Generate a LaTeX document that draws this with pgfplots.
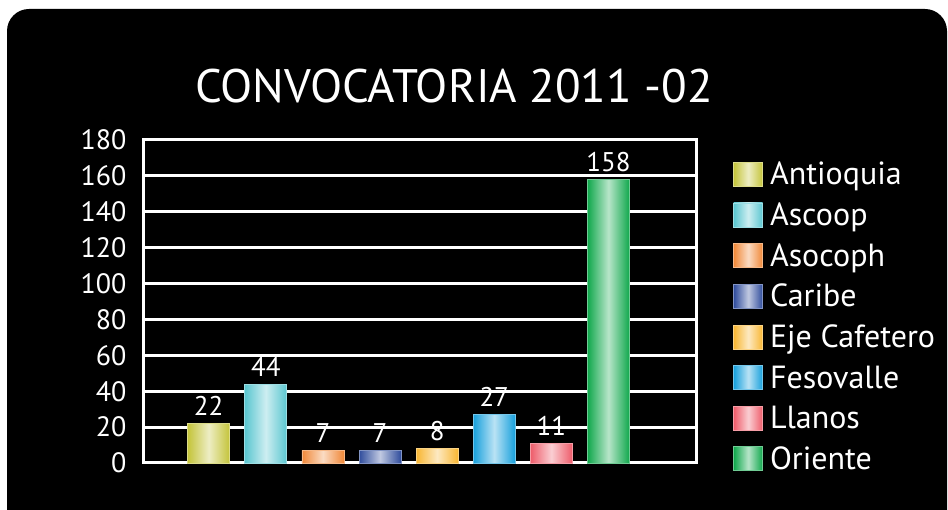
\documentclass[border=0pt]{standalone}
\usepackage{pgfplots}
\pgfplotsset{compat=1.18}
\usepackage{fontspec}
\setmainfont{PT Sans}
\definecolor{cAnt}{HTML}{C4C43A}
\definecolor{cAsc}{HTML}{5AC6D0}
\definecolor{cAso}{HTML}{F08838}
\definecolor{cCar}{HTML}{2F4C9C}
\definecolor{cEje}{HTML}{F8B632}
\definecolor{cFes}{HTML}{17A0DC}
\definecolor{cLla}{HTML}{EE5C6A}
\definecolor{cOri}{HTML}{10A84C}
\pgfplotsset{
  mybar/.style={fill=#1, draw=#1!60!white, line width=0.6pt,
    left color=#1, right color=#1, middle color=#1!30!white},
}
\begin{document}
\begin{tikzpicture}
\useasboundingbox (0pt,0pt) rectangle (948pt,510pt);
\fill[white] (0pt,0pt) rectangle (948pt,510pt);
\fill[black, rounded corners=22pt] (7pt,-30pt) rectangle (947pt,501pt);
\node[white, font=\fontsize{47}{56}\selectfont, anchor=base] at (454pt,407pt) {CONVOCATORIA 2011 -02};
\begin{axis}[
  at={(143pt,47pt)}, anchor=south west,
  scale only axis, width=554pt, height=323pt,
  xmin=-1.15, xmax=8.55, ymin=0, ymax=180,
  ytick={0,20,...,180}, xtick=\empty,
  ymajorgrids, grid style={white, line width=3pt},
  axis line style={white, line width=3pt},
  major tick length=0pt,
  /pgf/number format/assume math mode=true,
  yticklabel style={white, font=\fontsize{28}{32}\selectfont, xshift=-13pt},
  ybar, bar width=42pt, bar shift=0pt,
  nodes near coords,
  nodes near coords style={white, font=\fontsize{27}{32}\selectfont, yshift=4pt},
  legend style={at={(1.06,0.945)}, anchor=north west, draw=none, fill=none,
    text=white, font=\fontsize{32}{36}\selectfont, row sep=12.5pt,
    /tikz/every odd column/.append style={column sep=5pt}},
  legend cell align=left,
  legend image code/.code={\draw[#1, line width=0.6pt] (0pt,-12pt) rectangle (29pt,12pt);},
  clip=false,
]
\addplot[mybar=cAnt] coordinates {(0,22)};
\addlegendentry{Antioquia}
\addplot[mybar=cAsc] coordinates {(1,44)};
\addlegendentry{Ascoop}
\addplot[mybar=cAso] coordinates {(2,7)};
\addlegendentry{Asocoph}
\addplot[mybar=cCar] coordinates {(3,7)};
\addlegendentry{Caribe}
\addplot[mybar=cEje] coordinates {(4,8)};
\addlegendentry{Eje Cafetero}
\addplot[mybar=cFes] coordinates {(5,27)};
\addlegendentry{Fesovalle}
\addplot[mybar=cLla] coordinates {(6,11)};
\addlegendentry{Llanos}
\addplot[mybar=cOri] coordinates {(7,158)};
\addlegendentry{Oriente}
\end{axis}
\end{tikzpicture}
\end{document}
